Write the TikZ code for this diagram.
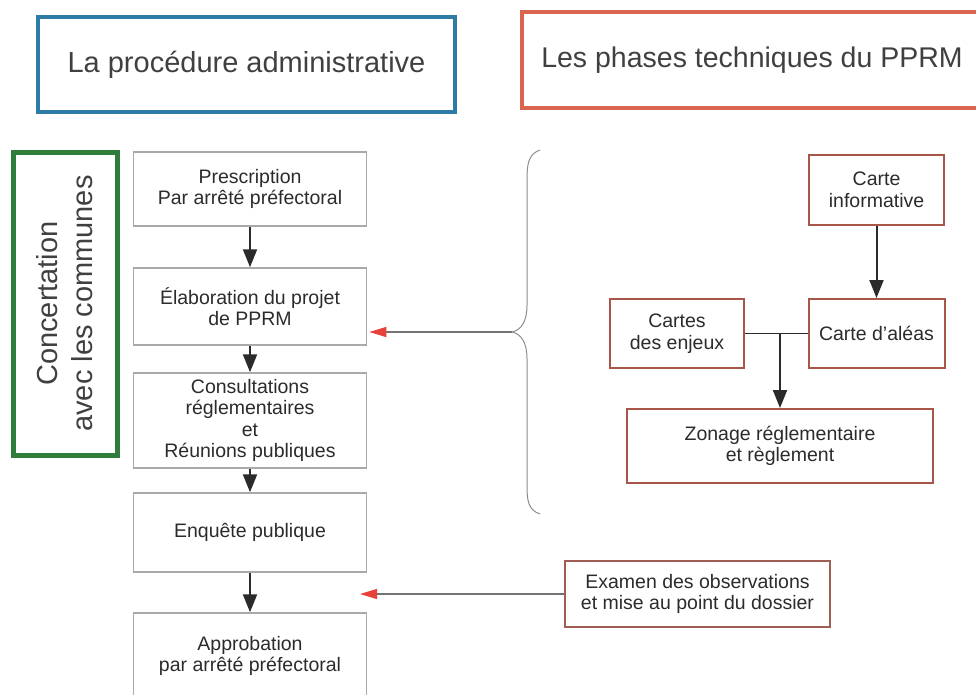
\documentclass[tikz,border=0pt]{standalone}
\usepackage{fontspec}
\setmainfont{Liberation Sans}
\usepackage{tikz}
\usetikzlibrary{arrows.meta,positioning,calc}

\definecolor{titleblue}{HTML}{2F7BA8}
\definecolor{titlered}{HTML}{D9654F}
\definecolor{concgreen}{HTML}{2E7D3A}
\definecolor{boxgray}{HTML}{A9A9A9}
\definecolor{boxred}{HTML}{A8554A}
\definecolor{txtgray}{HTML}{2B2B2B}
\definecolor{tipred}{HTML}{E8413A}

\begin{document}
\begin{tikzpicture}[x=1pt,y=-1pt,
		admbox/.style={draw=boxgray, line width=1.5pt, minimum width=233pt, inner sep=0pt, align=center, text=txtgray, font=\fontsize{19.5}{21.5}\selectfont},
		techbox/.style={draw=boxred, line width=2pt, inner sep=0pt, align=center, text=txtgray, font=\fontsize{19.5}{21.5}\selectfont},
		titlebox/.style={line width=4pt, minimum height=95pt, inner sep=0pt, text=txtgray!90},
		flow/.style={draw=txtgray, line width=2pt, -{Triangle[width=14pt,length=18pt]}},
		feed/.style={draw=black!55, line width=1.2pt, -{Triangle[width=10pt,length=17pt,color=tipred]}}]
		
		\useasboundingbox (0,0) rectangle (976,694);
		\clip (0,0) rectangle (976,694);
		
		\node[titlebox, draw=titleblue, minimum width=417pt, font=\fontsize{29}{33}\selectfont] (admin) at (246.5,64.5) {La procédure administrative};
		\node[titlebox, draw=titlered, minimum width=460pt, minimum height=96pt, font=\fontsize{28.5}{33}\selectfont] (tech) at (752,60) {Les phases techniques du PPRM};
		
		\node[draw=concgreen, line width=5pt, rotate=90, minimum width=303pt, minimum height=104pt, inner sep=0pt, align=center, text=txtgray!90, font=\fontsize{29}{35}\selectfont] (concert) at (65,303.5) {Concertation\\avec les communes};
		
		\node[admbox, minimum height=74pt] (presc) at (250,189) {Prescription\\Par arrêté préfectoral};
		\node[admbox, minimum height=77pt] (elab) at (250,306.5) {Élaboration du projet\\de PPRM};
		\node[admbox, minimum height=95pt] (consult) at (250,420.5) {Consultations\\réglementaires\\et\\Réunions publiques};
		\node[admbox, minimum height=79pt] (enquete) at (250,532.5) {Enquête publique};
		\node[admbox, minimum height=87pt] (approb) at (250,656.5) {\raisebox{10pt}{\begin{tabular}{@{}c@{}}Approbation\\par arrêté préfectoral\end{tabular}}};
		
		\draw[flow] (presc) -- (elab);
		\draw[flow] (elab) -- (consult);
		\draw[flow] (consult) -- (enquete);
		\draw[flow] (enquete) -- (approb);
		
		\draw[color=black!45, line width=1pt] (540,150) .. controls (528,154) and (527,165) .. (527,180) -- (527,305)
			.. controls (527,322) and (521,330) .. (512,332) coordinate (bracetip)
			.. controls (521,334) and (527,342) .. (527,359) -- (527,486)
			.. controls (527,500) and (528,510) .. (540,514);
		
		\draw[feed] (bracetip) -- ($(bracetip -| elab.east)+(2,0)$);
		
		\node[techbox, minimum width=135pt, minimum height=70pt] (info) at (876.5,190) {Carte\\informative};
		\node[techbox, minimum width=136pt, minimum height=69pt] (alea) at (876.5,333.5) {Carte d’aléas};
		\node[techbox, minimum width=134pt, minimum height=69pt] (enjeux) at (677,333.5) {Cartes\\des enjeux};
		\node[techbox, minimum width=306pt, minimum height=74pt] (zonage) at (780,446) {Zonage réglementaire\\et règlement};
		
		\draw[flow] (info) -- (alea);
		\draw[draw=txtgray, line width=1.5pt] (enjeux) -- (alea);
		\coordinate (junc) at (zonage.north |- enjeux.east);
		\draw[flow] (junc) -- (zonage);
		
		\node[techbox, draw=boxred!80!gray, minimum width=265pt, minimum height=66pt] (examen) at (697.5,594) {Examen des observations\\et mise au point du dossier};
		\coordinate (examtip) at (360,594);
		\draw[feed] (examen) -- (examtip);
		
\end{tikzpicture}
\end{document}
